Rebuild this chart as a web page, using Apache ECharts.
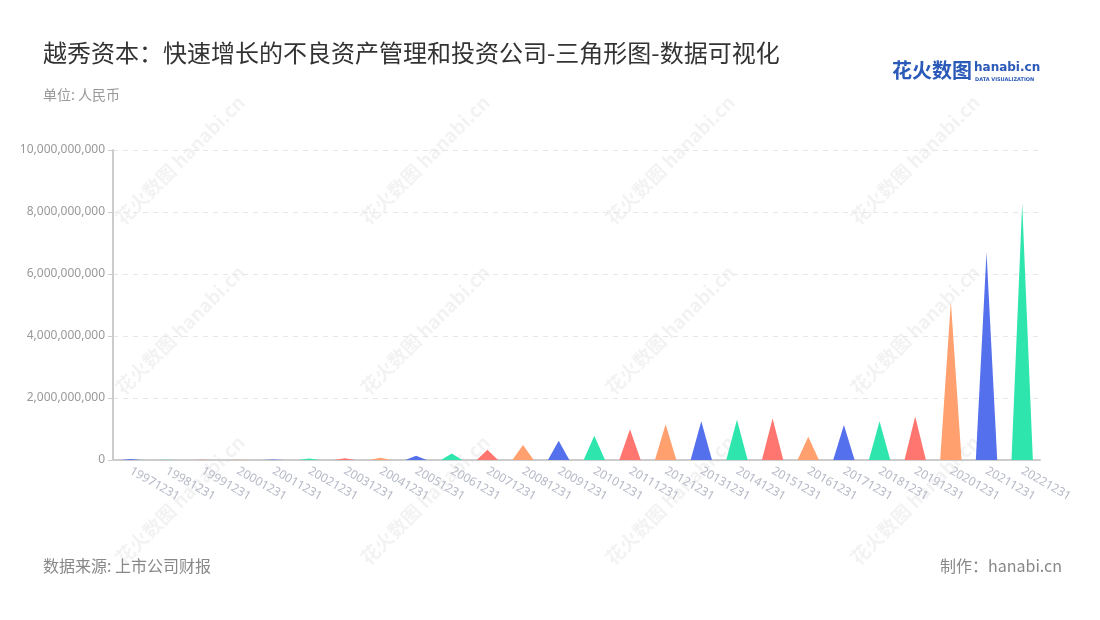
<!DOCTYPE html>
<html>
<head>
<meta charset="utf-8">
<script src="https://cdn.jsdelivr.net/npm/echarts@6/dist/echarts.min.js"></script>
<style>
html,body{margin:0;padding:0;background:#fff;}
#main{width:1100px;height:620px;}
</style>
</head>
<body>
<div id="main"></div>
<script>
var categories = ['19971231','19981231','19991231','20001231','20011231','20021231','20031231','20041231','20051231','20061231','20071231','20081231','20091231','20101231','20111231','20121231','20131231','20141231','20151231','20161231','20171231','20181231','20191231','20201231','20211231','20221231'];
var values = [30000000, 5000000, 10000000, 12000000, 20000000, 50000000, 60000000, 70000000, 140000000, 210000000, 330000000, 480000000, 620000000, 780000000, 990000000, 1150000000, 1250000000, 1300000000, 1340000000, 750000000, 1130000000, 1250000000, 1400000000, 5110000000, 6700000000, 8280000000];
var palette = ['#5470ed', '#2ee6ad', '#ff7570', '#ffa06e'];
var yTicks = [0, 2000000000, 4000000000, 6000000000, 8000000000, 10000000000];

var chart = echarts.init(document.getElementById('main'));

var marks = [];
var wmCols = [180, 425, 670, 915];
var wmRows = [160, 330, 500];
wmRows.forEach(function (y) {
  wmCols.forEach(function (x) {
    marks.push({
      type: 'text', x: x, y: y, rotation: Math.PI / 4, z: 0,
      style: { text: '花火数图 hanabi.cn', fill: 'rgba(0,0,0,0.05)', font: 'bold 19px "Noto Sans CJK SC"', textAlign: 'center', textVerticalAlign: 'middle' }
    });
  });
});

var option = {
  backgroundColor: '#fff',
  title: [
    { text: '越秀资本：快速增长的不良资产管理和投资公司-三角形图-数据可视化', left: 38, top: 36,
      textStyle: { fontSize: 24, fontWeight: 'normal', color: '#333', fontFamily: 'Noto Sans CJK SC' } },
    { text: '单位: 人民币', left: 38, top: 83,
      textStyle: { fontSize: 14, fontWeight: 'normal', color: '#999', fontFamily: 'Noto Sans CJK SC' } },
    { text: '数据来源: 上市公司财报', left: 38, top: 553,
      textStyle: { fontSize: 16, fontWeight: 'normal', color: '#888', fontFamily: 'Noto Sans CJK SC' } },
    { text: '制作：hanabi.cn', right: 33, top: 553,
      textStyle: { fontSize: 16, fontWeight: 'normal', color: '#888', fontFamily: 'Noto Sans CJK SC' } }
  ],
  graphic: marks.concat([
    { type: 'text', left: 892, top: 60, z: 10,
      style: { text: '花火数图', fill: '#2a59b8', font: 'bold 20px "Noto Sans CJK SC"' } },
    { type: 'text', left: 974, top: 62, z: 10,
      style: { text: 'hanabi.cn', fill: '#2a59b8', font: 'bold 12px "DejaVu Sans"' } },
    { type: 'text', left: 975, top: 77, z: 10,
      style: { text: 'DATA VISUALIZATION', fill: '#2a59b8', font: 'bold 5px "DejaVu Sans"' } }
  ]),
  grid: { left: 113, right: 60, top: 150, bottom: 160, containLabel: false },
  xAxis: {
    type: 'category',
    data: categories,
    axisLine: { lineStyle: { color: '#ccc', width: 2 } },
    axisTick: { alignWithLabel: true, lineStyle: { color: '#aaa' } },
    axisLabel: { rotate: -30, color: '#b5b9c6', fontSize: 12, interval: 0, margin: 10, fontFamily: 'Noto Sans' }
  },
  yAxis: {
    type: 'value',
    min: 0, max: 10000000000, interval: 2000000000,
    axisLine: { show: true, lineStyle: { color: '#ccc', width: 2 } },
    axisTick: { show: true, lineStyle: { color: '#ccc' } },
    axisLabel: { color: '#999', fontSize: 12, fontFamily: 'Noto Sans',
      formatter: function (v) { return yTicks.indexOf(v) >= 0 ? v.toLocaleString('en-US') : ''; } },
    splitLine: { lineStyle: { color: '#e6e6e6', type: [5, 5] } }
  },
  series: [{
    type: 'pictorialBar',
    symbol: 'path://M0,10 L10,10 L5,0 z',
    barCategoryGap: '40%',
    symbolSize: ['100%', '100%'],
    data: values.map(function (v, i) {
      return { value: v, itemStyle: { color: palette[i % 4] } };
    }),
    z: 5
  }]
};
chart.setOption(option);
</script>
</body>
</html>
